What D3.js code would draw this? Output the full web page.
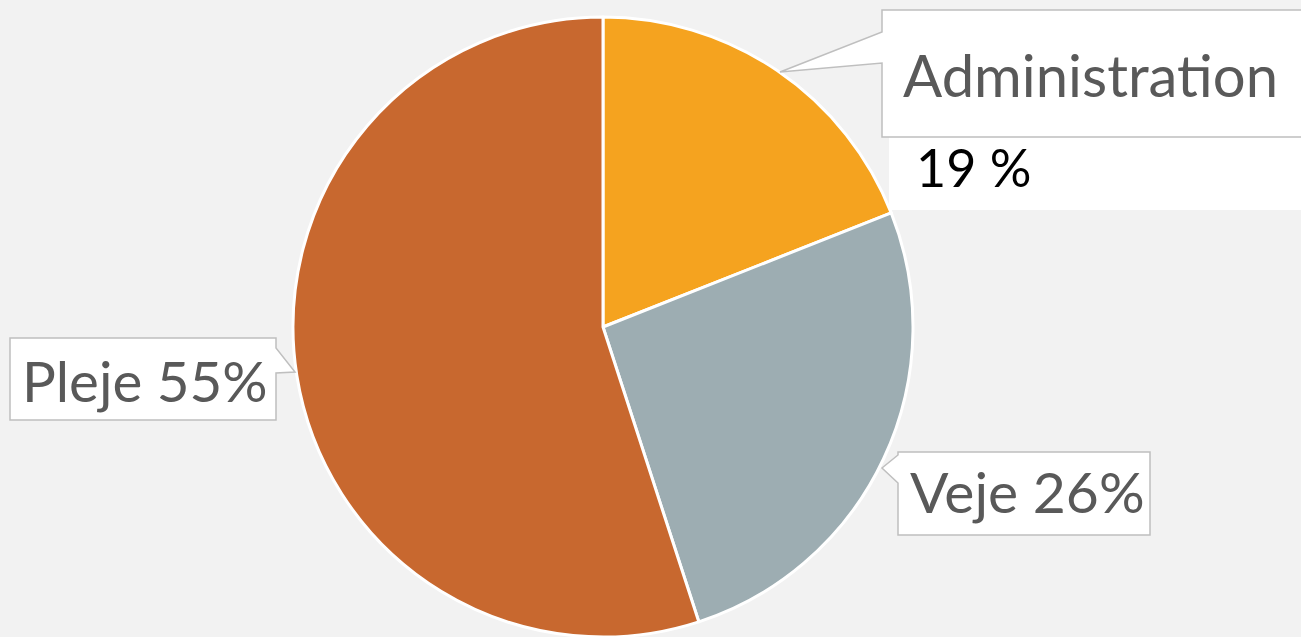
<!DOCTYPE html>
<html>
<head>
<meta charset="utf-8">
<script src="https://cdn.jsdelivr.net/npm/d3@7"></script>
<style>
  html, body { margin: 0; padding: 0; background: #f2f2f2; }
  svg { display: block; }
</style>
</head>
<body>
<script>
var categories = ["Administration", "Veje", "Pleje"];
var values = [19, 26, 55];
var labels = ["19 %", "Veje 26%", "Pleje 55%"];
var colors = ["#f5a31f", "#9dadb2", "#c8682f"];

var width = 1301, height = 637;
var cx = 603, cy = 327, radius = 310;

var svg = d3.select("body").append("svg")
    .attr("width", width)
    .attr("height", height);

svg.append("rect").attr("width", width).attr("height", height).attr("fill", "#f2f2f2");

var pie = d3.pie().sort(null).value(function (d) { return d; });
var arc = d3.arc().innerRadius(0).outerRadius(radius);

var chartGroup = svg.append("g").attr("transform", "translate(" + cx + "," + cy + ")");

chartGroup.selectAll("path.slice")
    .data(pie(values))
    .enter().append("path")
    .attr("class", "slice")
    .attr("d", arc)
    .attr("fill", function (d, i) { return colors[i]; })
    .attr("stroke", "#ffffff")
    .attr("stroke-width", 3)
    .attr("stroke-linejoin", "round");

var font = "'Lato', 'Open Sans', sans-serif";
var boxStroke = "#bfbfbf";

// Administration callout
svg.append("rect")
    .attr("x", 889).attr("y", 128).attr("width", 420).attr("height", 82)
    .attr("fill", "#ffffff");
svg.append("path")
    .attr("d", "M882,10 L1310,10 L1310,137 L882,137 L882,63 L780,72 L882,32 Z")
    .attr("fill", "#ffffff").attr("stroke", boxStroke).attr("stroke-width", 1.5);
svg.append("text")
    .attr("x", 903).attr("y", 97)
    .attr("font-family", font).attr("font-size", 58)
    .attr("fill", "#595959")
    .text(categories[0]);
svg.append("text")
    .attr("x", 916).attr("y", 187)
    .attr("font-family", font).attr("font-size", 52)
    .attr("fill", "#000000")
    .text(labels[0]);

// Veje callout
svg.append("path")
    .attr("d", "M898,452 L1150,452 L1150,535 L898,535 L898,483 L882,468 L898,455 Z")
    .attr("fill", "#ffffff").attr("stroke", boxStroke).attr("stroke-width", 1.5);
svg.append("text")
    .attr("x", 910).attr("y", 513)
    .attr("font-family", font).attr("font-size", 57)
    .attr("fill", "#595959")
    .text(labels[1]);

// Pleje callout
svg.append("path")
    .attr("d", "M10,338 L276,338 L276,348 L295,372 L276,373 L276,420 L10,420 Z")
    .attr("fill", "#ffffff").attr("stroke", boxStroke).attr("stroke-width", 1.5);
svg.append("text")
    .attr("x", 22).attr("y", 402)
    .attr("font-family", font).attr("font-size", 56.5)
    .attr("fill", "#595959")
    .text(labels[2]);
</script>
</body>
</html>
